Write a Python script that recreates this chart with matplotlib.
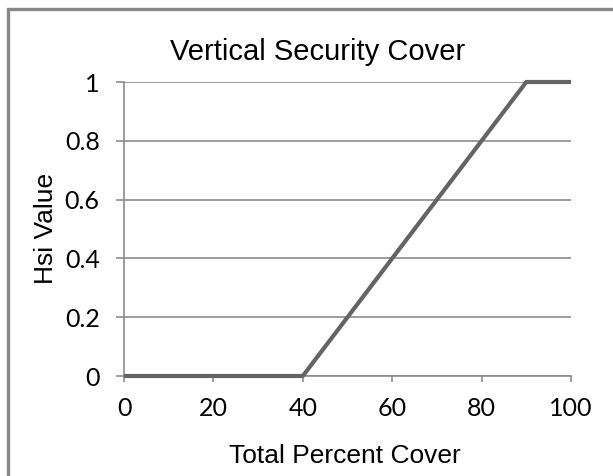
import matplotlib.pyplot as plt
from matplotlib.patches import Rectangle

# data
cover = [0, 40, 90, 100]
hsi = [0, 0, 1, 1]
x_ticks = [0, 20, 40, 60, 80, 100]
y_ticks = [0, 0.2, 0.4, 0.6, 0.8, 1]
y_tick_labels = ["0", "0.2", "0.4", "0.6", "0.8", "1"]

W, H = 613, 476
fig = plt.figure(figsize=(W / 100, H / 100), dpi=100)
fig.patch.set_facecolor("white")

# outer chart border (only left and top edges fall inside the image)
fig.patches.append(Rectangle((7.5 / W, -20 / H), 640 / W, (H - 9 + 20) / H,
                             transform=fig.transFigure, fill=False,
                             edgecolor="#878787", linewidth=2.4))

ax = fig.add_axes([124 / W, 100 / H, 447 / W, 294 / H])
ax.plot(cover, hsi, color="#646464", linewidth=3.0, solid_capstyle="butt",
        clip_on=False, zorder=3)

ax.set_xlim(0, 100)
ax.set_ylim(0, 1)
ax.set_xticks(x_ticks)
ax.set_yticks(y_ticks)
ax.set_yticklabels(y_tick_labels)

ax.set_axisbelow(True)
ax.yaxis.grid(True, color="#8c8c8c", linewidth=1.2)
ax.xaxis.grid(False)

for side in ["top", "right"]:
    ax.spines[side].set_visible(False)
for side in ["left", "bottom"]:
    ax.spines[side].set_color("#8c8c8c")
    ax.spines[side].set_linewidth(1.2)

ax.tick_params(axis="y", length=5.5, width=1.2, color="#8c8c8c", pad=12,
               labelsize=18)
ax.tick_params(axis="x", length=4, width=1.2, color="#8c8c8c", pad=11,
               labelsize=18)
for lab in ax.get_xticklabels() + ax.get_yticklabels():
    lab.set_fontfamily("Lato")

fig.text(318 / W, 1 - 60 / H, "Vertical Security Cover", ha="center",
         va="baseline", fontsize=21, family="Liberation Sans")
fig.text(345 / W, 1 - 463 / H, "Total Percent Cover", ha="center",
         va="baseline", fontsize=19, family="Liberation Sans")
fig.text(53 / W, 1 - 228 / H, "Hsi Value", ha="center", va="baseline",
         rotation=90, rotation_mode="anchor", fontsize=19,
         family="Liberation Sans")

fig.savefig("out.png", dpi=100)
